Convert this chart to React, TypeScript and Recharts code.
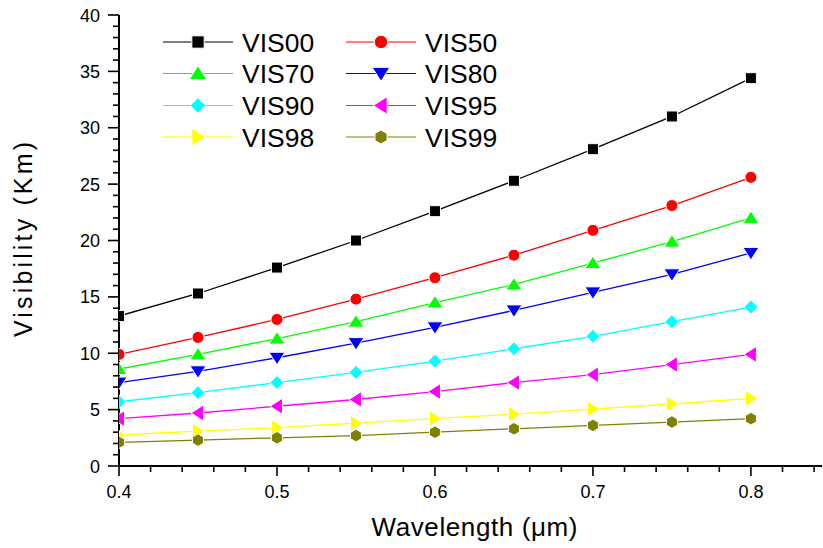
import { LineChart, Line, XAxis, YAxis, Legend, Label } from 'recharts';

const wavelengths = [0.4, 0.45, 0.5, 0.55, 0.6, 0.65, 0.7, 0.75, 0.8];

const vis00 = [13.3, 15.3, 17.6, 20.0, 22.6, 25.3, 28.1, 31.0, 34.4];
const vis50 = [9.9, 11.4, 13.0, 14.8, 16.7, 18.7, 20.9, 23.1, 25.6];
const vis70 = [8.6, 9.9, 11.3, 12.8, 14.5, 16.1, 18.0, 19.9, 22.0];
const vis80 = [7.4, 8.4, 9.6, 10.9, 12.3, 13.8, 15.4, 17.0, 18.9];
const vis90 = [5.7, 6.5, 7.4, 8.3, 9.3, 10.4, 11.5, 12.8, 14.1];
const vis95 = [4.2, 4.7, 5.3, 5.9, 6.6, 7.4, 8.1, 9.0, 9.9];
const vis98 = [2.75, 3.1, 3.4, 3.8, 4.2, 4.6, 5.05, 5.5, 6.0];
const vis99 = [2.1, 2.3, 2.5, 2.7, 3.0, 3.3, 3.6, 3.9, 4.2];

const xTicks = [0.4, 0.42, 0.44, 0.46, 0.48, 0.5, 0.52, 0.54, 0.56, 0.58, 0.6, 0.62, 0.64, 0.66, 0.68, 0.7, 0.72, 0.74, 0.76, 0.78, 0.8, 0.82, 0.84];
const yTicks = [0, 1, 2, 3, 4, 5, 6, 7, 8, 9, 10, 11, 12, 13, 14, 15, 16, 17, 18, 19, 20, 21, 22, 23, 24, 25, 26, 27, 28, 29, 30, 31, 32, 33, 34, 35, 36, 37, 38, 39, 40];

const series = [
  { key: 'VIS00', values: vis00, color: '#000000', shape: 'square' },
  { key: 'VIS50', values: vis50, color: '#ff0000', shape: 'circle' },
  { key: 'VIS70', values: vis70, color: '#00ff00', shape: 'up' },
  { key: 'VIS80', values: vis80, color: '#0000ff', shape: 'down' },
  { key: 'VIS90', values: vis90, color: '#00ffff', shape: 'diamond' },
  { key: 'VIS95', values: vis95, color: '#ff00ff', shape: 'left' },
  { key: 'VIS98', values: vis98, color: '#ffff00', shape: 'right' },
  { key: 'VIS99', values: vis99, color: '#808000', shape: 'hexagon' },
];

const data = wavelengths.map((wl, i) => {
  const row: Record<string, number> = { wl };
  series.forEach((s) => (row[s.key] = s.values[i]));
  return row;
});

const FONT = '"Liberation Sans", Arial, sans-serif';

function Marker({ cx, cy, shape, color, k = 1 }: any) {
  if (cx == null || cy == null) return null;
  const common = { fill: color, stroke: '#fff', strokeWidth: 1 };
  const h = 5.5 * k;
  const t = 7 * k;
  switch (shape) {
    case 'square':
      return <rect x={cx - h} y={cy - h} width={2 * h} height={2 * h} {...common} />;
    case 'circle':
      return <circle cx={cx} cy={cy} r={h + 0.5} {...common} />;
    case 'up':
      return <polygon points={`${cx},${cy - t} ${cx + t + 1},${cy + h} ${cx - t - 1},${cy + h}`} {...common} />;
    case 'down':
      return <polygon points={`${cx},${cy + t} ${cx + t + 1},${cy - h} ${cx - t - 1},${cy - h}`} {...common} />;
    case 'diamond':
      return <polygon points={`${cx},${cy - t} ${cx + t},${cy} ${cx},${cy + t} ${cx - t},${cy}`} {...common} />;
    case 'left':
      return <polygon points={`${cx - t},${cy} ${cx + h},${cy - t - 1} ${cx + h},${cy + t + 1}`} {...common} />;
    case 'right':
      return <polygon points={`${cx + t},${cy} ${cx - h},${cy - t - 1} ${cx - h},${cy + t + 1}`} {...common} />;
    default: {
      const r = h + 0.8;
      const pts = [0, 1, 2, 3, 4, 5]
        .map((j) => {
          const a = (Math.PI / 3) * j - Math.PI / 2;
          return `${cx + r * Math.cos(a)},${cy + r * Math.sin(a)}`;
        })
        .join(' ');
      return <polygon points={pts} {...common} />;
    }
  }
}

function XTick({ x, y, payload }: any) {
  const v = payload.value;
  const major = Math.abs(v * 10 - Math.round(v * 10)) < 1e-6;
  return (
    <g>
      <line x1={x} x2={x} y1={y} y2={y + (major ? 10 : 6)} stroke="#000" strokeWidth={1.6} />
      {major && (
        <text x={x} y={y + 32} textAnchor="middle" fontSize={18} fontFamily={FONT} fill="#000">
          {v.toFixed(1)}
        </text>
      )}
    </g>
  );
}

function YTick({ x, y, payload }: any) {
  const v = payload.value;
  const major = v % 5 === 0;
  return (
    <g>
      <line x1={x} x2={x - (major ? 11 : 6)} y1={y} y2={y} stroke="#000" strokeWidth={1.6} />
      {major && (
        <text x={x - 19} y={y + 6.5} textAnchor="end" fontSize={18} fontFamily={FONT} fill="#000">
          {v}
        </text>
      )}
    </g>
  );
}

function LegendBox() {
  const cols = [163, 346];
  const rows = [42, 73.5, 105.5, 137];
  return (
    <svg width={560} height={160} style={{ display: 'block' }}>
      {series.map((s, i) => {
        const lx = cols[i % 2];
        const ly = rows[Math.floor(i / 2)];
        return (
          <g key={s.key}>
            <line x1={lx} x2={lx + 70} y1={ly} y2={ly} stroke={s.color} strokeWidth={1.2} />
            <Marker cx={lx + 35} cy={ly} shape={s.shape} color={s.color} k={1.12} />
            <text x={lx + 79} y={ly + 9.5} fontSize={26.5} fontFamily={FONT} fill="#000">
              {s.key}
            </text>
          </g>
        );
      })}
    </svg>
  );
}

export default function App() {
  return (
    <div style={{ position: 'absolute', left: 0, top: 0, width: 823, height: 548, background: '#fff' }}>
      <LineChart width={823} height={548} data={data} margin={{ top: 15, right: 1, bottom: 0, left: 0 }}>
        <XAxis
          dataKey="wl"
          type="number"
          domain={[0.4, 0.845]}
          allowDataOverflow
          ticks={xTicks}
          interval={0}
          height={82}
          tickSize={0}
          tickMargin={0}
          tickLine={false}
          tick={<XTick />}
          axisLine={{ stroke: '#000', strokeWidth: 2 }}
        >
          <Label
            content={(props: any) => {
              const vb = props.viewBox;
              return (
                <text
                  x={vb.x + vb.width / 2 + 4}
                  y={536}
                  textAnchor="middle"
                  fontSize={26}
                  fontFamily={FONT}
                  textLength={206}
                  lengthAdjust="spacing"
                  fill="#000"
                >
                  Wavelength (μm)
                </text>
              );
            }}
          />
        </XAxis>
        <YAxis
          type="number"
          domain={[0, 40]}
          ticks={yTicks}
          interval={0}
          width={119}
          tickSize={0}
          tickMargin={0}
          tickLine={false}
          tick={<YTick />}
          axisLine={{ stroke: '#000', strokeWidth: 2 }}
        >
          <Label
            content={(props: any) => {
              const vb = props.viewBox;
              const cy = vb.y + vb.height / 2 - 1;
              return (
                <text
                  x={32}
                  y={cy}
                  transform={`rotate(-90, 32, ${cy})`}
                  textAnchor="middle"
                  fontSize={25}
                  fontFamily={FONT}
                  textLength={195}
                  lengthAdjust="spacing"
                  fill="#000"
                >
                  Visibility (Km)
                </text>
              );
            }}
          />
        </YAxis>
        <Legend
          layout="vertical"
          align="center"
          verticalAlign="middle"
          wrapperStyle={{ position: 'absolute', left: 0, top: 0, width: 560, height: 160 }}
          content={() => <LegendBox />}
        />
        {series.map((s) => (
          <Line
            key={s.key}
            dataKey={s.key}
            stroke={s.color}
            strokeWidth={1.3}
            isAnimationActive={false}
            dot={(p: any) => <Marker key={`${s.key}-${p.index}`} cx={p.cx} cy={p.cy} shape={s.shape} color={s.color} />}
            activeDot={false}
          />
        ))}
      </LineChart>
    </div>
  );
}
